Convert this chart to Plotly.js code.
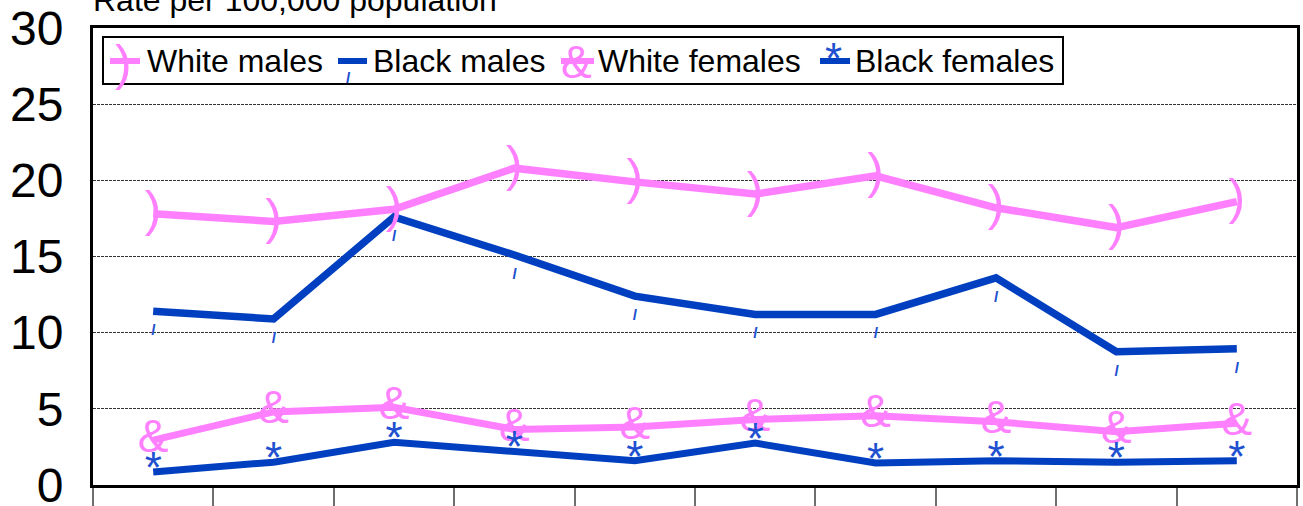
<!DOCTYPE html>
<html><head><meta charset="utf-8">
<script src="https://cdn.plot.ly/plotly-3.0.1.min.js"></script>
<style>html,body{margin:0;padding:0;background:#fff;}#chart{width:1303px;height:506px;}</style>
</head><body><div id="chart"></div>
<script>
// ---- data ----
const periods = ['1','2','3','4','5','6','7','8','9','10'];
const seriesNames = ['White males','Black males','White females','Black females'];
const whiteMales   = [17.8, 17.3, 18.1, 20.8, 19.9, 19.1, 20.3, 18.2, 16.9, 18.6];
const blackMales   = [11.4, 10.9, 17.6, 15.1, 12.4, 11.2, 11.2, 13.6, 8.75, 8.95];
const whiteFemales = [2.95, 4.8, 5.1, 3.65, 3.8, 4.3, 4.55, 4.15, 3.5, 4.05];
const blackFemales = [0.85, 1.5, 2.8, 2.25, 1.6, 2.75, 1.45, 1.6, 1.5, 1.6];
const yTickVals = [0, 5, 10, 15, 20, 25, 30];
const yTitle = 'Rate per 100,000 population';

// ---- styles ----
const PINK = '#FF80FF', BLUE = '#0040C0', BLUE2 = '#2050D0';
const FONT = 'Liberation Sans, Arial, sans-serif';
const series = [
  {name: seriesNames[0], y: whiteMales,   color: PINK, width: 7.5, glyph: ')', gsize: 50, gcolor: PINK,  gfont: {family: FONT}, gpos: 'middle center', gpad: 0, leg: {x: 123, y: 63}},
  {name: seriesNames[1], y: blackMales,   color: BLUE, width: 7.5, glyph: 'l', gsize: 14, gcolor: BLUE2, gfont: {family: FONT, weight: 'bold', style: 'italic'}, gpos: 'bottom center', gpad: 20, leg: {x: 348, y: 78}},
  {name: seriesNames[2], y: whiteFemales, color: PINK, width: 7, glyph: '&', gsize: 46, gcolor: PINK,  gfont: {family: FONT}, gpos: 'middle center', gpad: 0, leg: {x: 576, y: 62}},
  {name: seriesNames[3], y: blackFemales, color: BLUE, width: 7, glyph: '*', gsize: 44, gcolor: BLUE2, gfont: {family: FONT}, gpos: 'middle center', gpad: 0, leg: {x: 834, y: 59}}
];

const traces = [];
series.forEach(s => traces.push({
  type: 'scatter', mode: 'lines', name: s.name, x: periods, y: s.y,
  line: {color: s.color, width: s.width}, hoverinfo: 'x+y+name'
}));
series.forEach(s => traces.push({
  type: 'scatter', mode: s.gpad ? 'markers+text' : 'text', name: s.name, x: periods, y: s.y,
  text: s.y.map(() => s.glyph), textposition: s.gpos,
  marker: {size: s.gpad || 1, color: 'rgba(0,0,0,0)', line: {width: 0}},
  textfont: Object.assign({size: s.gsize, color: s.gcolor}, s.gfont),
  hoverinfo: 'skip', showlegend: false, cliponaxis: false
}));

// ---- manual legend (pixel layout converted to paper coords) ----
const L = 93, R = 1297, T = 28, B = 485;
const px = x => (x - L) / (R - L);
const py = y => (B - y) / (B - T);
const legY = 61;
const legItems = [
  {seg: [110, 140], text: 145},
  {seg: [338, 367], text: 371},
  {seg: [561, 594], text: 596},
  {seg: [820, 850], text: 853}
];
const shapes = [{type: 'rect', xref: 'paper', yref: 'paper', x0: px(103), x1: px(1063), y0: py(37), y1: py(84),
  line: {color: 'black', width: 2}, fillcolor: 'white', layer: 'above'}];
const annotations = [];
legItems.forEach((it, i) => {
  const s = series[i];
  shapes.push({type: 'line', xref: 'paper', yref: 'paper', x0: px(it.seg[0]), x1: px(it.seg[1]), y0: py(legY), y1: py(legY),
    line: {color: s.color, width: 6}, layer: 'above'});
  annotations.push({xref: 'paper', yref: 'paper', x: px(s.leg.x), y: py(s.leg.y), xanchor: 'center', yanchor: 'middle',
    text: s.glyph, showarrow: false, font: Object.assign({size: s.gsize, color: s.gcolor}, s.gfont)});
  annotations.push({xref: 'paper', yref: 'paper', x: px(it.text), y: py(legY), xanchor: 'left', yanchor: 'middle',
    text: s.name, showarrow: false, font: {family: FONT, size: 32, color: 'black'}});
});

const layout = {
  width: 1303, height: 506,
  margin: {l: 93, r: 6, t: 28, b: 21, pad: 0},
  paper_bgcolor: 'white', plot_bgcolor: 'white',
  showlegend: false,
  font: {family: FONT, color: 'black'},
  title: {text: yTitle, font: {family: FONT, size: 32, color: 'black'},
          x: 93/1303, xanchor: 'left', xref: 'container', y: 1, yref: 'container', yanchor: 'middle'},
  xaxis: {type: 'category', range: [-0.5, 9.5], showticklabels: false, ticks: 'outside', tickson: 'boundaries',
          ticklen: 24, tickwidth: 2, tickcolor: '#6f6f6f', showline: true, linecolor: 'black', linewidth: 3,
          mirror: true, showgrid: false, zeroline: false, fixedrange: true},
  yaxis: {range: [0, 30], tickmode: 'array', tickvals: yTickVals, ticks: '', showgrid: true, gridcolor: '#333', gridwidth: 1,
          griddash: '3px,1px', showline: true, linecolor: 'black', linewidth: 3, mirror: true, zeroline: false,
          tickfont: {family: FONT, size: 48, color: 'black'}, ticklabelstandoff: 17, ticklabeloverflow: 'allow',
          fixedrange: true},
  shapes: shapes,
  annotations: annotations
};

Plotly.newPlot('chart', traces, layout, {displayModeBar: false, staticPlot: true});
</script>
</body></html>
